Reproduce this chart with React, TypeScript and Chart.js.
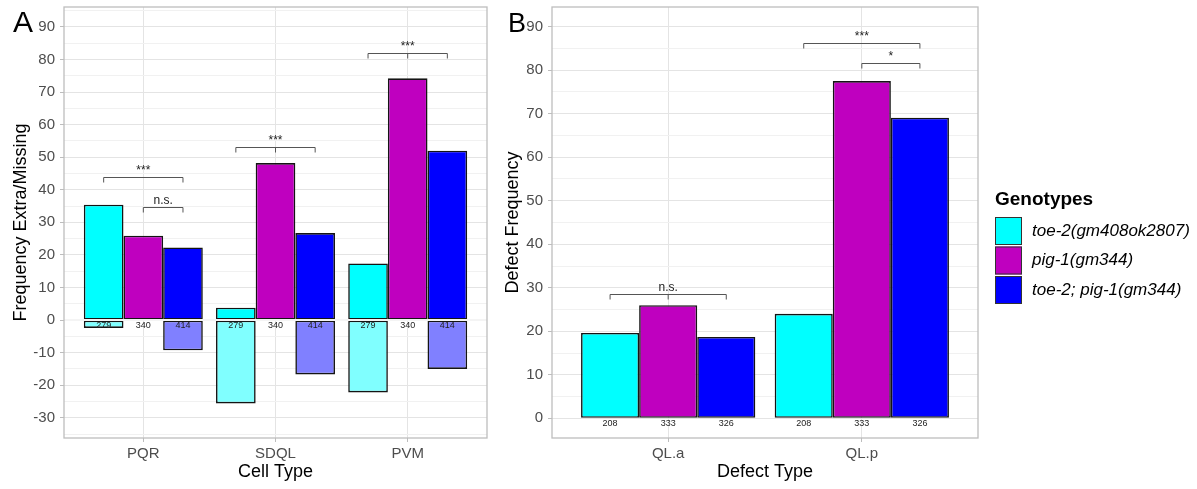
import React, { useEffect, useRef } from 'react';
import { Chart, registerables } from 'chart.js';

Chart.register(...registerables);

// ---------- data ----------
const genotypes = ['toe-2(gm408ok2807)', 'pig-1(gm344)', 'toe-2; pig-1(gm344)'];
const colors = ['#00FFFF', '#BF00BF', '#0000FF'];
const lightColors = ['#80FFFF', '#DF80DF', '#8080FF'];

// Panel A
const cellTypes = ['PQR', 'SDQL', 'PVM'];
const toe2Extra = [35.4, 3.8, 17.4];
const toe2Missing = [-2.4, -25.6, -22.2];
const pig1Extra = [25.9, 48.2, 74.2];
const pig1Missing = [0, 0, 0];
const doubleExtra = [22.3, 26.7, 52.0];
const doubleMissing = [-9.3, -16.7, -15.0];
const countsA = [279, 340, 414];
const yTicksA = [-30, -20, -10, 0, 10, 20, 30, 40, 50, 60, 70, 80, 90];
const bracketsA = [
  { cat: 0, from: 0, to: 2, y: 43.9, label: '***', mid: false },
  { cat: 0, from: 1, to: 2, y: 34.7, label: 'n.s.', mid: false },
  { cat: 1, from: 0, to: 2, y: 53.1, label: '***', mid: true },
  { cat: 2, from: 0, to: 2, y: 82.1, label: '***', mid: true },
];

// Panel B
const defectTypes = ['QL.a', 'QL.p'];
const toe2Defect = [19.6, 24.0];
const pig1Defect = [26.0, 77.5];
const doubleDefect = [18.7, 69.1];
const countsB = [208, 333, 326];
const yTicksB = [0, 10, 20, 30, 40, 50, 60, 70, 80, 90];
const bracketsB = [
  { cat: 0, from: 0, to: 2, y: 28.6, label: 'n.s.', mid: true },
  { cat: 1, from: 0, to: 2, y: 86.3, label: '***', mid: false },
  { cat: 1, from: 1, to: 2, y: 81.7, label: '*', mid: false },
];

// ---------- styling ----------
const FONT = "'Liberation Sans', Arial, sans-serif";
const GRID_MAJOR = '#e4e4e4';
const GRID_MINOR = '#f1f1f1';
const BORDER = '#bdbdbd';
const TICK_TEXT = '#4d4d4d';

function withMinors(majors: number[], min: number, max: number) {
  const out: number[] = [];
  majors.forEach((v) => {
    out.push(v - 5, v);
  });
  out.push(majors[majors.length - 1] + 5);
  return out.filter((v) => v >= min && v <= max);
}

function makeOptions(
  xLabels: string[],
  yMin: number,
  yMax: number,
  yMajors: number[],
  yWidth: number,
  padRight: number,
  stacked: boolean
): any {
  const gridVals = withMinors(yMajors, yMin, yMax);
  return {
    responsive: false,
    animation: false,
    events: [],
    layout: { padding: { left: 0, top: 7, right: padRight, bottom: 0 } },
    plugins: { legend: { display: false }, tooltip: { enabled: false } },
    datasets: { bar: { barPercentage: 1, categoryPercentage: 0.9 } },
    scales: {
      x: {
        type: 'linear',
        min: 0.4,
        max: xLabels.length + 0.6,
        offset: false,
        stacked: stacked ? true : undefined,
        border: { display: false },
        grid: {
          offset: false,
          color: GRID_MAJOR,
          lineWidth: 1,
          tickLength: 4,
          tickColor: BORDER,
        },
        ticks: {
          autoSkip: false,
          maxRotation: 0,
          color: TICK_TEXT,
          padding: 3,
          font: { family: FONT, size: 15 },
          callback: (v: number) => xLabels[Math.round(v) - 1] ?? '',
        },
        afterBuildTicks: (s: any) => {
          s.ticks = xLabels.map((_, i) => ({ value: i + 1 }));
        },
        afterFit: (s: any) => {
          s.height = 51;
          s.paddingLeft = 0;
          s.paddingRight = 0;
        },
      },
      y: {
        type: 'linear',
        min: yMin,
        max: yMax,
        stacked: stacked ? true : undefined,
        border: { display: false },
        grid: {
          color: (c: any) => (yMajors.includes(c.tick?.value) ? GRID_MAJOR : GRID_MINOR),
          lineWidth: 1,
          tickLength: 4,
          tickColor: (c: any) => (yMajors.includes(c.tick?.value) ? BORDER : 'rgba(0,0,0,0)'),
        },
        ticks: {
          autoSkip: false,
          color: TICK_TEXT,
          padding: 5,
          font: { family: FONT, size: 15 },
          callback: (v: number) => (yMajors.includes(v) ? String(v) : ''),
        },
        afterBuildTicks: (s: any) => {
          s.ticks = gridVals.map((v) => ({ value: v }));
        },
        afterFit: (s: any) => {
          s.width = yWidth;
          s.paddingTop = 0;
          s.paddingBottom = 0;
        },
      },
    },
  };
}

type Bracket = { cat: number; from: number; to: number; y: number; label: string; mid: boolean };

function drawBrackets(chart: any, brackets: Bracket[], dsIndex: (g: number) => number) {
  const ctx = chart.ctx;
  const ys = chart.scales.y;
  ctx.save();
  ctx.strokeStyle = '#555555';
  ctx.lineWidth = 1;
  ctx.fillStyle = '#222222';
  ctx.textAlign = 'center';
  ctx.textBaseline = 'alphabetic';
  brackets.forEach((b) => {
    const x1 = chart.getDatasetMeta(dsIndex(b.from)).data[b.cat].x;
    const x2 = chart.getDatasetMeta(dsIndex(b.to)).data[b.cat].x;
    const y = Math.round(ys.getPixelForValue(b.y)) + 0.5;
    const tick = 5;
    ctx.beginPath();
    ctx.moveTo(x1, y + tick);
    ctx.lineTo(x1, y);
    ctx.lineTo(x2, y);
    ctx.lineTo(x2, y + tick);
    if (b.mid) {
      const xm = chart.getDatasetMeta(dsIndex(1)).data[b.cat].x;
      ctx.moveTo(xm, y);
      ctx.lineTo(xm, y + tick);
    }
    ctx.stroke();
    ctx.font = `12px ${FONT}`;
    ctx.fillText(b.label, (x1 + x2) / 2, y - 4);
  });
  ctx.restore();
}

function drawCounts(chart: any, counts: number[], nCats: number, dsIndex: (g: number) => number) {
  const ctx = chart.ctx;
  const y0 = chart.scales.y.getPixelForValue(0);
  ctx.save();
  ctx.font = `9px ${FONT}`;
  ctx.fillStyle = '#222222';
  ctx.textAlign = 'center';
  ctx.textBaseline = 'middle';
  for (let j = 0; j < nCats; j++) {
    counts.forEach((n, g) => {
      const x = chart.getDatasetMeta(dsIndex(g)).data[j].x;
      ctx.fillText(String(n), x, y0 + 5.5);
    });
  }
  ctx.restore();
}

function drawPanelBorder(chart: any) {
  const { left, top, right, bottom } = chart.chartArea;
  const ctx = chart.ctx;
  ctx.save();
  ctx.strokeStyle = BORDER;
  ctx.lineWidth = 1.3;
  ctx.strokeRect(left, top, right - left, bottom - top);
  ctx.restore();
}

function drawTitles(chart: any, letter: string, yTitle: string, xTitle: string, yTitleX: number, letterSize: number) {
  const ctx = chart.ctx;
  const { left, top, right, bottom } = chart.chartArea;
  ctx.save();
  ctx.fillStyle = '#000000';
  ctx.font = `${letterSize}px ${FONT}`;
  ctx.textAlign = 'left';
  ctx.textBaseline = 'alphabetic';
  ctx.fillText(letter, 13, 32);
  ctx.font = `18px ${FONT}`;
  ctx.textAlign = 'center';
  ctx.fillText(xTitle, (left + right) / 2, 477);
  ctx.translate(yTitleX, (top + bottom) / 2);
  ctx.rotate(-Math.PI / 2);
  ctx.fillText(yTitle, 0, 0);
  ctx.restore();
}

function drawLegend(chart: any, ox: number) {
  const ctx = chart.ctx;
  ctx.save();
  ctx.fillStyle = '#000000';
  ctx.textAlign = 'left';
  ctx.textBaseline = 'alphabetic';
  ctx.font = `bold 19px ${FONT}`;
  ctx.fillText('Genotypes', 995 - ox, 205);
  genotypes.forEach((g, i) => {
    const x = 995 - ox;
    const y = 217 + i * 29.5;
    ctx.fillStyle = colors[i];
    ctx.fillRect(x, y, 27, 28);
    ctx.strokeStyle = '#333333';
    ctx.lineWidth = 1;
    ctx.strokeRect(x + 0.5, y + 0.5, 26, 27);
    ctx.fillStyle = '#000000';
    ctx.font = `italic 17px ${FONT}`;
    ctx.textBaseline = 'middle';
    ctx.fillText(g, 1032 - ox, y + 14);
    ctx.textBaseline = 'alphabetic';
  });
  ctx.restore();
}

const barStyle = { borderColor: '#141414', borderWidth: 1.6, borderSkipped: false };

export default function App() {
  const refA = useRef<HTMLCanvasElement>(null);
  const refB = useRef<HTMLCanvasElement>(null);

  useEffect(() => {
    const extra = [toe2Extra, pig1Extra, doubleExtra];
    const missing = [toe2Missing, pig1Missing, doubleMissing];
    const datasetsA: any[] = [];
    genotypes.forEach((g, i) => {
      datasetsA.push({
        label: g,
        data: cellTypes.map((_, j) => ({ x: j + 1, y: extra[i][j] })),
        backgroundColor: colors[i],
        stack: 's' + i,
        ...barStyle,
      });
      datasetsA.push({
        label: g + ' missing',
        data: cellTypes.map((_, j) => ({ x: j + 1, y: missing[i][j] })),
        backgroundColor: lightColors[i],
        stack: 's' + i,
        ...barStyle,
      });
    });
    const idxA = (g: number) => 2 * g;
    const pluginA = {
      id: 'panelA',
      afterDatasetsDraw(chart: any) {
        const ctx = chart.ctx;
        const { left, right } = chart.chartArea;
        const y0 = chart.scales.y.getPixelForValue(0);
        ctx.save();
        ctx.strokeStyle = '#f4f4f4';
        ctx.lineWidth = 2;
        ctx.beginPath();
        ctx.moveTo(left, y0);
        ctx.lineTo(right, y0);
        ctx.stroke();
        ctx.restore();
        drawCounts(chart, countsA, cellTypes.length, idxA);
        drawBrackets(chart, bracketsA, idxA);
        drawPanelBorder(chart);
      },
      afterDraw(chart: any) {
        drawTitles(chart, 'A', 'Frequency Extra/Missing', 'Cell Type', 26, 30);
      },
    };
    const chartA = new Chart(refA.current as HTMLCanvasElement, {
      type: 'bar',
      data: { datasets: datasetsA },
      options: makeOptions(cellTypes, -36.2, 96.1, yTicksA, 64, 495 - 487, true),
      plugins: [pluginA],
    } as any);

    const defects = [toe2Defect, pig1Defect, doubleDefect];
    const datasetsB = genotypes.map((g, i) => ({
      label: g,
      data: defectTypes.map((_, j) => ({ x: j + 1, y: defects[i][j] })),
      backgroundColor: colors[i],
      ...barStyle,
    }));
    const idxB = (g: number) => g;
    const OX = 495;
    const pluginB = {
      id: 'panelB',
      afterDatasetsDraw(chart: any) {
        drawCounts(chart, countsB, defectTypes.length, idxB);
        drawBrackets(chart, bracketsB, idxB);
        drawPanelBorder(chart);
      },
      afterDraw(chart: any) {
        drawTitles(chart, 'B', 'Defect Frequency', 'Defect Type', 518 - OX, 27);
        drawLegend(chart, OX);
      },
    };
    const chartB = new Chart(refB.current as HTMLCanvasElement, {
      type: 'bar',
      data: { datasets: datasetsB },
      options: makeOptions(defectTypes, -4.53, 94.53, yTicksB, 552 - OX, 1197 - 978, false),
      plugins: [pluginB],
    } as any);

    return () => {
      chartA.destroy();
      chartB.destroy();
    };
  }, []);

  return (
    <div style={{ position: 'absolute', left: 0, top: 0, width: 1197, height: 489, background: '#ffffff' }}>
      <canvas ref={refA} width={495} height={489} style={{ position: 'absolute', left: 0, top: 0, width: 495, height: 489 }} />
      <canvas ref={refB} width={702} height={489} style={{ position: 'absolute', left: 495, top: 0, width: 702, height: 489 }} />
    </div>
  );
}
